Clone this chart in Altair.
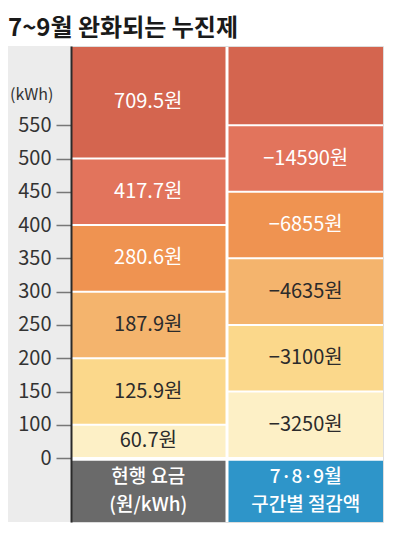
import altair as alt
import pandas as pd

FONT = "Noto Sans CJK KR"

TITLE = "7~9월 완화되는 누진제"
COLUMNS = ["현행", "절감"]
COLUMN_LABELS = ["현행 요금\n(원/kWh)", "7·8·9월\n구간별 절감액"]

# lower bounds (kWh) of each tier
LEFT_LOWER = [0, 100, 200, 300, 400, 500]
RIGHT_LOWER = [0, 150, 250, 350, 450, 550]
LEFT_TEXT = ["60.7원", "125.9원", "187.9원", "280.6원", "417.7원", "709.5원"]
RIGHT_TEXT = ["−3250원", "−3100원", "−4635원", "−6855원", "−14590원", ""]

Y_TICKS = [0, 100, 150, 200, 250, 300, 350, 400, 450, 500, 550]

# layout constants (axis break: 0 is drawn where 50 would be)
BREAK = 50
Y_MAX = 669
Y_MIN = -46
BOX_TOP = 46

TIER_COLORS = ["#fdf0c6", "#fbd88b", "#f4b46d", "#ef9351", "#e2745c", "#d4654f"]
BOX_COLORS = ["#6a6a6a", "#2e95c9"]
BG = "#ececec"

rows = []
for col, lowers, texts in [(COLUMNS[0], LEFT_LOWER, LEFT_TEXT), (COLUMNS[1], RIGHT_LOWER, RIGHT_TEXT)]:
    for i, lo in enumerate(lowers):
        hi = lowers[i + 1] if i + 1 < len(lowers) else Y_MAX
        rows.append({"col": col, "tier": i, "lo": lo, "hi": hi, "text": texts[i]})
bands_df = pd.DataFrame(rows)
boxes_df = pd.DataFrame({"col": COLUMNS, "label": COLUMN_LABELS})

W, H = 312, 476

x_enc = alt.X("col:N", scale=alt.Scale(domain=COLUMNS, paddingInner=0.019, paddingOuter=0), axis=None)
y_scale = alt.Scale(domain=[Y_MIN, Y_MAX], nice=False, zero=False)
y_axis = alt.Axis(
    values=[max(v, BREAK) for v in Y_TICKS],
    labelExpr=f"datum.value == {BREAK} ? '0' : datum.label",
    title="(kWh)", titleAngle=0, titleAlign="right", titleBaseline="middle",
    titleX=-18, titleY=48, titleFontSize=16, titleFontWeight="normal",
    titleColor="#333333", titleFont=FONT,
    labelFont=FONT, labelFontSize=20, labelColor="#333333", labelPadding=5,
    tickSize=15, tickColor="#777777", tickWidth=1.5,
    domainColor="#2a2a2a", domainWidth=2, grid=False, zindex=1,
)

strip = alt.Chart(pd.DataFrame({"a": [0]})).mark_rect(fill=BG).encode(
    x=alt.value(-63), x2=alt.value(0), y=alt.value(0), y2=alt.value(H)
)

base = alt.Chart(bands_df).transform_calculate(
    lo_d=f"max(datum.lo, {BREAK})"
).transform_calculate(
    mid="(datum.lo_d + datum.hi) / 2"
)

bands = base.mark_rect(yOffset=-1, y2Offset=1).encode(
    x=x_enc,
    y=alt.Y("lo_d:Q", scale=y_scale, axis=y_axis),
    y2="hi:Q",
    color=alt.Color("tier:O", scale=alt.Scale(domain=list(range(6)), range=TIER_COLORS), legend=None),
)

band_text = base.mark_text(font=FONT, fontSize=20, baseline="middle", align="center").encode(
    x=x_enc,
    y=alt.Y("mid:Q", scale=y_scale, axis=y_axis),
    text="text:N",
    color=alt.condition("datum.tier >= 3", alt.value("#ffffff"), alt.value("#2b2b2b")),
)

boxes = alt.Chart(boxes_df).mark_rect().encode(
    x=x_enc,
    y=alt.Y(datum=Y_MIN, scale=y_scale, axis=y_axis),
    y2=alt.Y2(datum=BOX_TOP),
    fill=alt.Fill("col:N", scale=alt.Scale(domain=COLUMNS, range=BOX_COLORS), legend=None),
)

box_text = alt.Chart(boxes_df).mark_text(
    font=FONT, fontSize=19, fontWeight=500, lineBreak="\n", lineHeight=28, color="#ffffff",
    baseline="middle", align="center", dy=-14
).encode(
    x=x_enc,
    y=alt.Y(datum=(Y_MIN + BOX_TOP) / 2, scale=y_scale, axis=y_axis),
    text="label:N",
)

chart = alt.layer(strip, bands, band_text, boxes, box_text).resolve_scale(
    color="independent"
).properties(
    width=W, height=H,
    padding={"left": 63, "top": 38, "right": 2, "bottom": 1},
    autosize="none",
    title=alt.TitleParams(TITLE, anchor="start", frame="group", dx=-63, offset=5,
                          fontSize=24, font=FONT, fontWeight="bold", color="#1a1a1a"),
).configure_view(stroke=None).configure(background="#ffffff")

chart.save("out.html", embed_options={"renderer": "svg", "actions": False})
